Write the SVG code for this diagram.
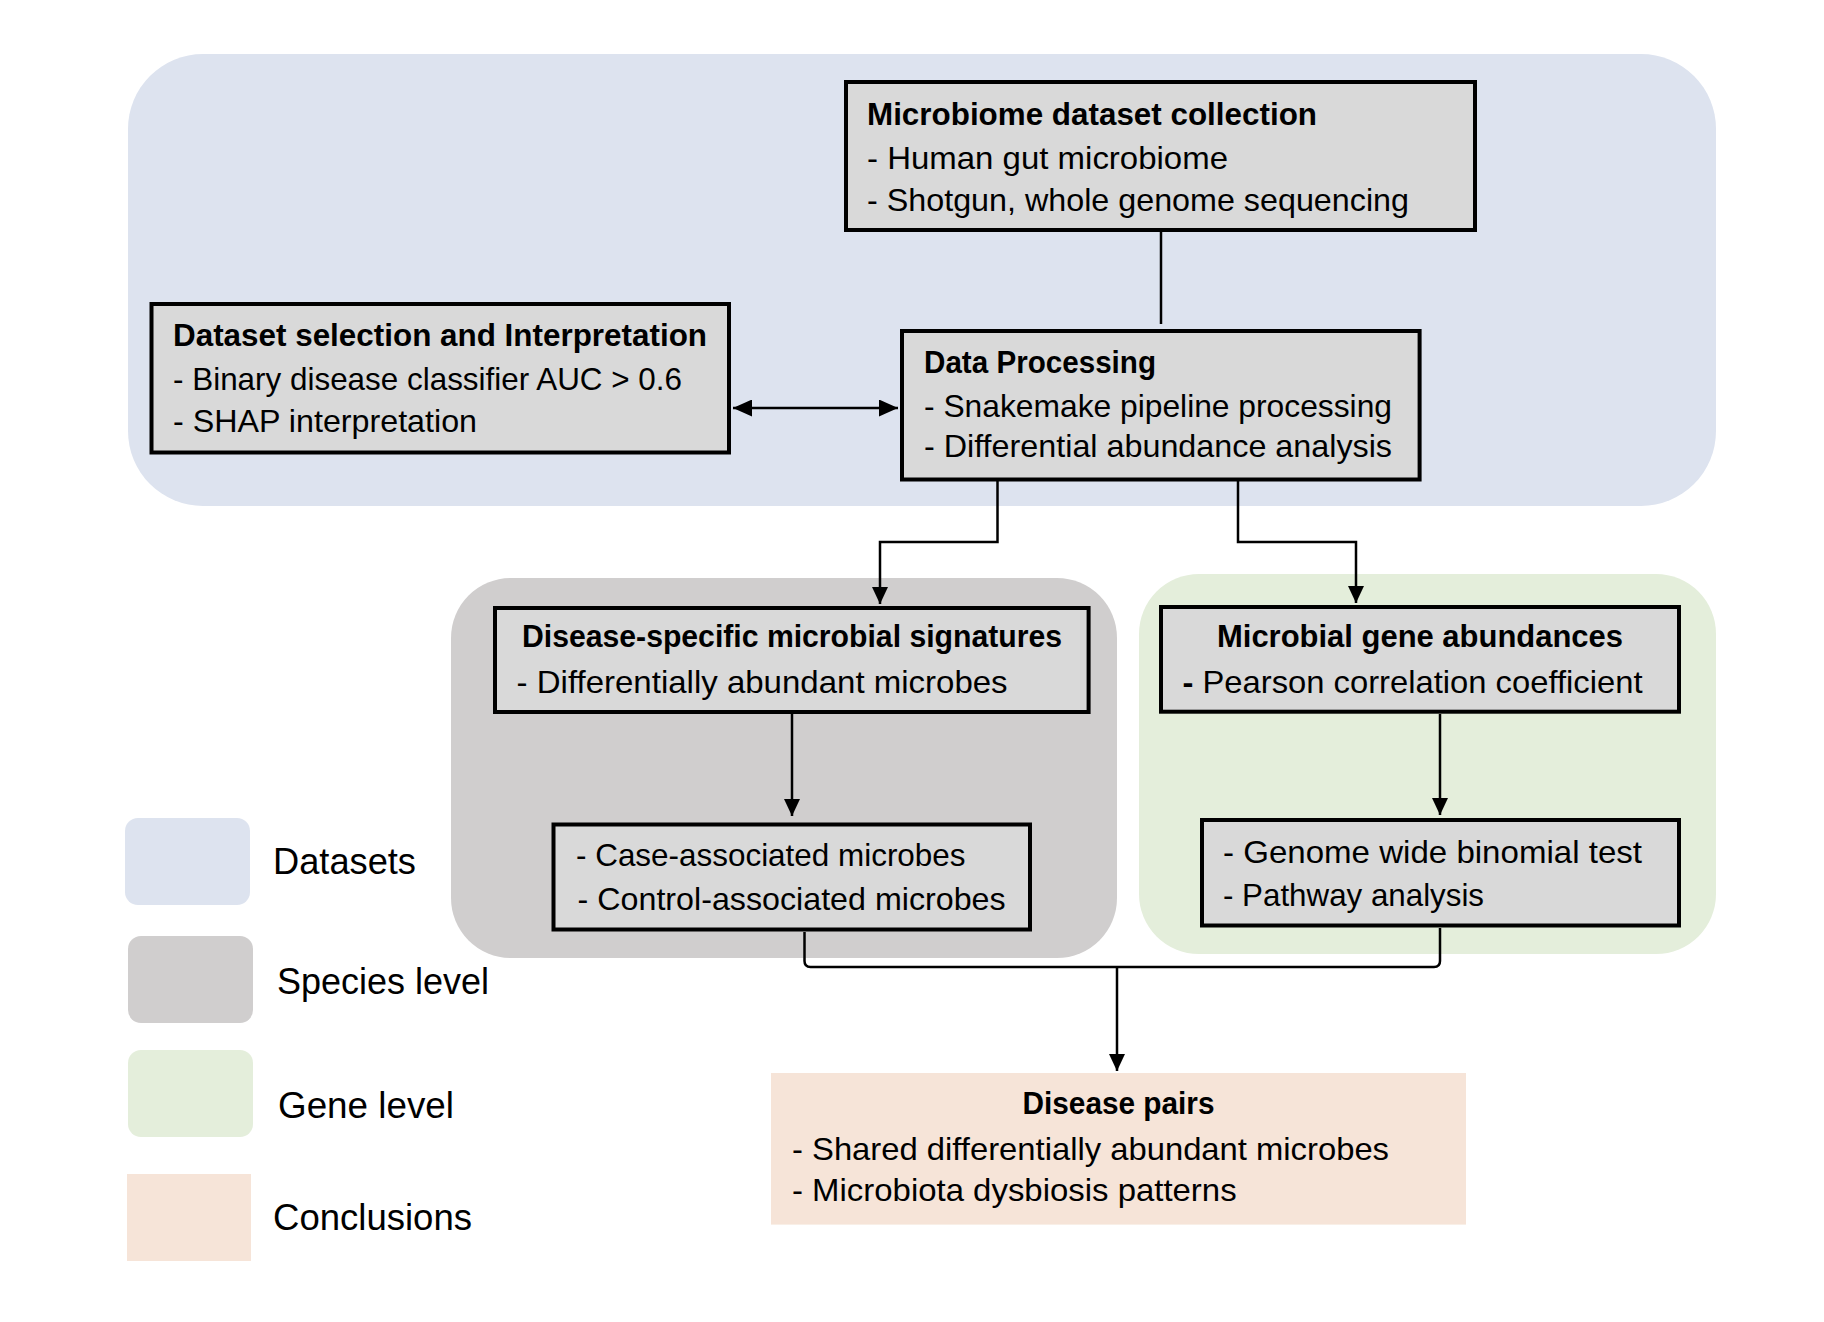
<svg xmlns="http://www.w3.org/2000/svg" width="1824" height="1322" viewBox="0 0 1824 1322">
<defs>
<style>
.box{fill:#d9d9d9;stroke:#000;stroke-width:4}
.t{font-family:"Liberation Sans",Arial,sans-serif;font-size:32px;fill:#000}
.b{font-weight:bold}
.lg{font-family:"Liberation Sans",Arial,sans-serif;font-size:36px;fill:#000}
.c{fill:none;stroke:#000;stroke-width:2.5}
</style>
<marker id="ah" viewBox="0 0 17 16" refX="17" refY="8" markerWidth="17" markerHeight="16" markerUnits="userSpaceOnUse" orient="auto-start-reverse">
<path d="M0,0 L17,8 L0,16 z" fill="#000"/>
</marker>
<marker id="ah2" viewBox="0 0 19 17" refX="19" refY="8.5" markerWidth="19" markerHeight="17" markerUnits="userSpaceOnUse" orient="auto-start-reverse">
<path d="M0,0 L19,8.5 L0,17 z" fill="#000"/>
</marker>
</defs>
<rect width="1824" height="1322" fill="#fff"/>
<g id="regions">
<rect id="datasets-region" x="128" y="54" width="1588" height="452" rx="75" ry="75" fill="#dde3ef"/>
<rect id="species-region" x="451" y="578" width="666" height="380" rx="60" ry="60" fill="#d0cece"/>
<rect id="gene-region" x="1139" y="574" width="577" height="380" rx="60" ry="60" fill="#e4eedb"/>
</g>
<g id="legend">
<rect x="125" y="818" width="125" height="87" rx="13" fill="#dde3ef"/>
<text class="lg" x="273" y="874" textLength="143" lengthAdjust="spacingAndGlyphs">Datasets</text>
<rect x="128" y="936" width="125" height="87" rx="13" fill="#d0cece"/>
<text class="lg" x="277" y="994" textLength="212" lengthAdjust="spacingAndGlyphs">Species level</text>
<rect x="128" y="1050" width="125" height="87" rx="13" fill="#e4eedb"/>
<text class="lg" x="278" y="1118" textLength="176" lengthAdjust="spacingAndGlyphs">Gene level</text>
<rect x="127" y="1174" width="124" height="87" fill="#f6e4d8"/>
<text class="lg" x="273" y="1230" textLength="199" lengthAdjust="spacingAndGlyphs">Conclusions</text>
</g>
<g id="connectors">
<path class="c" d="M1161,232 V324" stroke-width="2"/>
<path class="c" d="M733,408 H898" marker-start="url(#ah2)" marker-end="url(#ah2)"/>
<path class="c" d="M997.5,481 V542 H880 V604" marker-end="url(#ah)"/>
<path class="c" d="M1238,481 V542 H1356 V603" marker-end="url(#ah)"/>
<path class="c" d="M792,714 V816" marker-end="url(#ah)"/>
<path class="c" d="M1440,714 V815" marker-end="url(#ah)"/>
<path class="c" d="M804.5,932 V961 Q804.5,967 810.5,967 H1434 Q1440,967 1440,961 V928"/>
<path class="c" d="M1117,967 V1071" marker-end="url(#ah)"/>
</g>
<g id="node-dataset-selection">
<rect class="box" x="151.5" y="304" width="577.5" height="148.5"/>
<text class="t b" x="173" y="346" textLength="534" lengthAdjust="spacingAndGlyphs">Dataset selection and Interpretation</text>
<text class="t" x="173" y="390" textLength="509" lengthAdjust="spacingAndGlyphs">- Binary disease classifier AUC &gt; 0.6</text>
<text class="t" x="173" y="432" textLength="304" lengthAdjust="spacingAndGlyphs">- SHAP interpretation</text>
</g>
<g id="node-microbiome-collection">
<rect class="box" x="846" y="82" width="629" height="148"/>
<text class="t b" x="867" y="124.5" textLength="450" lengthAdjust="spacingAndGlyphs">Microbiome dataset collection</text>
<text class="t" x="867" y="169" textLength="361" lengthAdjust="spacingAndGlyphs">- Human gut microbiome</text>
<text class="t" x="867" y="211" textLength="542" lengthAdjust="spacingAndGlyphs">- Shotgun, whole genome sequencing</text>
</g>
<g id="node-data-processing">
<rect class="box" x="902" y="331" width="517.6" height="148.5"/>
<text class="t b" x="924" y="373" textLength="232" lengthAdjust="spacingAndGlyphs">Data Processing</text>
<text class="t" x="924" y="417" textLength="468" lengthAdjust="spacingAndGlyphs">- Snakemake pipeline processing</text>
<text class="t" x="924" y="457" textLength="468" lengthAdjust="spacingAndGlyphs">- Differential abundance analysis</text>
</g>
<g id="node-disease-specific">
<rect class="box" x="495" y="608" width="593.6" height="104"/>
<text class="t b" x="522" y="647" textLength="540" lengthAdjust="spacingAndGlyphs">Disease-specific microbial signatures</text>
<text class="t" x="516.6" y="692.6" textLength="491" lengthAdjust="spacingAndGlyphs">- Differentially abundant microbes</text>
</g>
<g id="node-case-control">
<rect class="box" x="553.5" y="824.5" width="476.5" height="105"/>
<text class="t" x="576" y="865.5" textLength="389.5" lengthAdjust="spacingAndGlyphs">- Case-associated microbes</text>
<text class="t" x="577.6" y="909.7" textLength="428" lengthAdjust="spacingAndGlyphs">- Control-associated microbes</text>
</g>
<g id="node-gene-abundances">
<rect class="box" x="1161" y="607" width="518" height="104.7"/>
<text class="t b" x="1217" y="647" textLength="406" lengthAdjust="spacingAndGlyphs">Microbial gene abundances</text>
<text class="t" x="1182.5" y="692.6" textLength="460" lengthAdjust="spacingAndGlyphs"><tspan class="b">-</tspan> Pearson correlation coefficient</text>
</g>
<g id="node-genome-test">
<rect class="box" x="1202" y="820" width="477" height="105.5"/>
<text class="t" x="1223" y="862.5" textLength="419" lengthAdjust="spacingAndGlyphs">- Genome wide binomial test</text>
<text class="t" x="1223" y="905.5" textLength="261" lengthAdjust="spacingAndGlyphs">- Pathway analysis</text>
</g>
<g id="node-disease-pairs">
<rect x="771" y="1073" width="695" height="151.6" fill="#f6e4d8"/>
<text class="t b" x="1022.5" y="1114" textLength="192" lengthAdjust="spacingAndGlyphs">Disease pairs</text>
<text class="t" x="792" y="1160" textLength="597" lengthAdjust="spacingAndGlyphs">- Shared differentially abundant microbes</text>
<text class="t" x="792" y="1200.6" textLength="444.6" lengthAdjust="spacingAndGlyphs">- Microbiota dysbiosis patterns</text>
</g>
</svg>
